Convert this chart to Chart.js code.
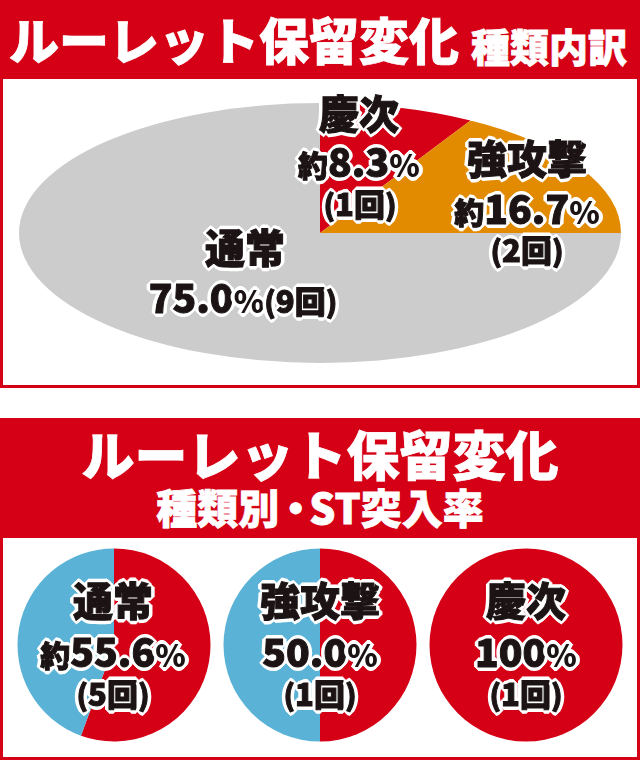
<!DOCTYPE html>
<html>
<head>
<meta charset="utf-8">
<script src="https://cdn.jsdelivr.net/npm/chart.js@4"></script>
<style>
  body { margin: 0; width: 640px; height: 760px; background: #fff; position: relative; overflow: hidden;
         font-family: "Noto Sans CJK JP", "Noto Sans", sans-serif; }
  .box { position: absolute; left: 0; width: 640px; border: 3px solid #d50016; box-sizing: border-box; background: #fff; }
  .hdr { position: absolute; left: 0; width: 640px; background: #d50016; }
  .t { position: absolute; font-weight: 900; line-height: 1; white-space: nowrap; }
  .w { color: #fff; -webkit-text-stroke: 0.8px #fff; }
  .lab { position: absolute; transform: translate(-50%, -50%); font-weight: 900; line-height: 1; white-space: nowrap;
         color: #1c1414; text-align: center; -webkit-text-stroke: 1px #1c1414;
         text-shadow: 3px 0 #fff, -3px 0 #fff, 0 3px #fff, 0 -3px #fff, 2px 2px #fff, -2px 2px #fff, 2px -2px #fff, -2px -2px #fff,
                      3px 1px #fff, -3px 1px #fff, 3px -1px #fff, -3px -1px #fff, 1px 3px #fff, -1px 3px #fff, 1px -3px #fff, -1px -3px #fff,
                      4px 0 #fff, -4px 0 #fff, 0 4px #fff, 0 -4px #fff; }
  canvas { position: absolute; }
</style>
</head>
<body>
<div class="box" style="top:0;height:388px"></div>
<div class="hdr" style="top:0;height:79px"></div>
<div class="t w" style="left:9px;top:13px;font-size:50px">ルーレット保留変化</div>
<div class="t w" style="left:471px;top:26px;font-size:39px">種類内訳</div>

<canvas id="pieTop" width="604" height="260" style="left:18px;top:103px;width:604px;height:260px"></canvas>

<div class="box" style="top:418px;height:342px"></div>
<div class="hdr" style="top:418px;height:120px"></div>
<div class="t w" style="left:0;width:640px;text-align:center;top:427px;font-size:53px">ルーレット保留変化</div>
<div class="t w" style="left:0;width:640px;text-align:center;top:486px;font-size:41px">種類別<span style="letter-spacing:-8px;margin-left:-4px">・</span><span style="margin-left:1px">ST突入率</span></div>

<canvas id="st0" width="200" height="200" style="left:14px;top:545px;width:200px;height:200px"></canvas>
<canvas id="st1" width="200" height="200" style="left:220px;top:545px;width:200px;height:200px"></canvas>
<canvas id="st2" width="200" height="200" style="left:426px;top:545px;width:200px;height:200px"></canvas>

<div id="labels"></div>

<script>
// 種類内訳 (回数)
const types = ["慶次", "強攻撃", "通常"];
const typeCounts = [1, 2, 9];
const typePct = ["約8.3%", "約16.7%", "75.0%"];
const typeColors = ["#d50016", "#e28a00", "#cccccc"];

// 種類別・ST突入率
const stTypes = ["通常", "強攻撃", "慶次"];
const stHits = [5, 1, 1];
const stTotals = [9, 2, 1];
const stPct = ["約55.6%", "50.0%", "100%"];
const stColors = ["#d50016", "#5ab3d6"];

// squash the big pie into an ellipse
const squash = {
  id: 'squash',
  beforeDatasetsDraw(chart, args, opts) {
    const a = chart.chartArea;
    const cx = (a.left + a.right) / 2, cy = (a.top + a.bottom) / 2;
    chart.ctx.save();
    chart.ctx.translate(cx, cy);
    chart.ctx.scale(1, opts.ratio);
    chart.ctx.translate(-cx, -cy);
  },
  afterDatasetsDraw(chart) {
    chart.ctx.restore();
  }
};

new Chart(document.getElementById('pieTop'), {
  type: 'pie',
  data: {
    labels: types,
    datasets: [{
      data: typeCounts,
      backgroundColor: typeColors,
      borderWidth: 0,
      radius: 301
    }]
  },
  options: {
    responsive: false,
    animation: false,
    layout: { padding: 0 },
    plugins: { legend: { display: false }, tooltip: { enabled: false }, squash: { ratio: 130 / 301 } }
  },
  plugins: [squash]
});

stTypes.forEach((name, i) => {
  new Chart(document.getElementById('st' + i), {
    type: 'pie',
    data: {
      labels: ["ST突入", "非突入"],
      datasets: [{
        data: [stHits[i], stTotals[i] - stHits[i]],
        backgroundColor: stColors,
        borderWidth: 0,
        radius: 96.5
      }]
    },
    options: {
      responsive: false,
      animation: false,
      plugins: { legend: { display: false }, tooltip: { enabled: false } }
    }
  });
});

// labels
const L = document.getElementById('labels');
function lab(x, y, html) {
  const d = document.createElement('div');
  d.className = 'lab';
  d.style.left = x + 'px';
  d.style.top = y + 'px';
  d.innerHTML = html;
  L.appendChild(d);
}
function pct(s) {
  // "約" and "%" a bit smaller than the digits
  return s.replace(/^約/, '<span style="font-size:30px">約</span>')
          .replace(/([\d.]+)%/, '<span style="font-size:39px">$1</span><span style="font-size:31px;-webkit-text-stroke:0">%</span>');
}
function times(n, size) {
  return '<span style="font-size:' + size + 'px">(<span style="font-size:' + (size + 2) + 'px">' + n + '回</span>)</span>';
}

lab(359, 112, '<span style="font-size:40px">' + types[0] + '</span>');
lab(359, 160, pct(typePct[0]));
lab(360, 202, times(typeCounts[0], 29));

lab(527, 157, '<span style="font-size:40px">' + types[1] + '</span>');
lab(527, 207, pct(typePct[1]));
lab(527, 248, times(typeCounts[1], 29));

lab(245, 246, '<span style="font-size:40px">' + types[2] + '</span>');
lab(243, 296, pct(typePct[2]) + times(typeCounts[2], 29));

const stX = [113, 320, 526];
stTypes.forEach((name, i) => {
  lab(stX[i], 599, '<span style="font-size:40px">' + name + '</span>');
  lab(stX[i], 650, pct(stPct[i]));
  lab(stX[i], 692, times(stHits[i], 29));
});
</script>
</body>
</html>
